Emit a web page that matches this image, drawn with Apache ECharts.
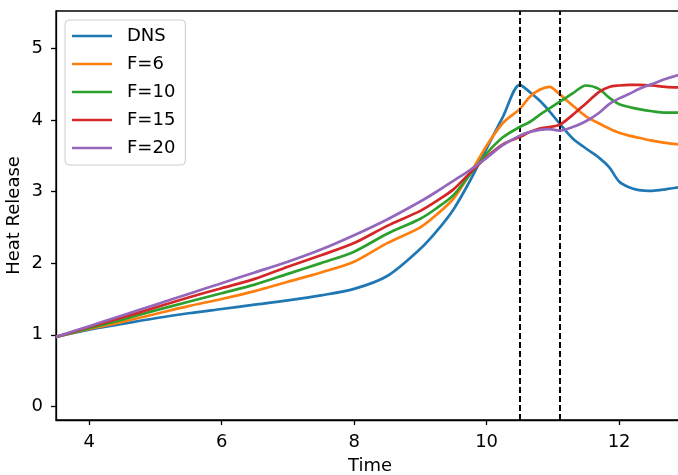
<!DOCTYPE html>
<html>
<head>
<meta charset="utf-8">
<script src="https://cdn.jsdelivr.net/npm/echarts@6/dist/echarts.min.js"></script>
<style>
html,body{margin:0;padding:0;background:#fff;}
#chart{width:678px;height:475px;}
</style>
</head>
<body>
<div id="chart"></div>
<script>
var time = [3.5, 4, 4.5, 5, 5.5, 6, 6.5, 7, 7.5, 8, 8.5, 9, 9.25, 9.5, 9.75, 10, 10.25, 10.5, 10.65, 10.8, 10.95, 11.1, 11.3, 11.5, 11.7, 11.85, 12, 12.15, 12.3, 12.5, 12.7, 12.98];
var dns = [0.97, 1.07, 1.15, 1.23, 1.30, 1.36, 1.42, 1.48, 1.55, 1.64, 1.82, 2.2, 2.45, 2.75, 3.15, 3.6, 4.05, 4.49, 4.39, 4.27, 4.12, 3.95, 3.74, 3.6, 3.47, 3.34, 3.14, 3.06, 3.02, 3.01, 3.03, 3.07];
var f6 = [0.97, 1.08, 1.18, 1.29, 1.40, 1.50, 1.61, 1.74, 1.87, 2.02, 2.28, 2.5, 2.68, 2.9, 3.25, 3.64, 3.96, 4.15, 4.32, 4.42, 4.46, 4.36, 4.2, 4.05, 3.95, 3.88, 3.82, 3.78, 3.75, 3.71, 3.68, 3.65];
var f10 = [0.97, 1.09, 1.21, 1.34, 1.46, 1.58, 1.70, 1.85, 2.0, 2.16, 2.41, 2.62, 2.77, 2.95, 3.24, 3.53, 3.76, 3.9, 3.97, 4.07, 4.16, 4.25, 4.37, 4.48, 4.43, 4.31, 4.22, 4.18, 4.15, 4.12, 4.1, 4.1];
var f15 = [0.97, 1.11, 1.24, 1.38, 1.52, 1.65, 1.78, 1.95, 2.11, 2.28, 2.52, 2.73, 2.87, 3.03, 3.26, 3.48, 3.66, 3.76, 3.83, 3.88, 3.9, 3.93, 4.07, 4.23, 4.39, 4.46, 4.48, 4.49, 4.49, 4.48, 4.46, 4.45];
var f20 = [0.97, 1.12, 1.27, 1.42, 1.57, 1.72, 1.87, 2.02, 2.19, 2.39, 2.61, 2.86, 3.0, 3.15, 3.3, 3.47, 3.65, 3.78, 3.83, 3.86, 3.87, 3.85, 3.9, 3.98, 4.1, 4.22, 4.3, 4.36, 4.43, 4.5, 4.57, 4.65];
var seriesNames = ['DNS', 'F=6', 'F=10', 'F=15', 'F=20'];
var seriesValues = [dns, f6, f10, f15, f20];
var colors = ['#1f77b4', '#ff7f0e', '#2ca02c', '#d62728', '#9467bd'];
var xTicks = [4, 6, 8, 10, 12];
var yTicks = [0, 1, 2, 3, 4, 5];
var markTimes = [10.5, 11.1];

var FONT = 'DejaVu Sans';
var FS = 18;
var chart = echarts.init(document.getElementById('chart'), null, {renderer: 'canvas'});

var series = seriesNames.map(function (name, i) {
  var s = {
    name: name,
    type: 'line',
    data: time.map(function (t, j) { return [t, seriesValues[i][j]]; }),
    showSymbol: false,
    smooth: 0.3,
    lineStyle: {color: colors[i], width: 2.7},
    itemStyle: {color: colors[i]},
    z: 3 + i
  };
  if (i === 0) {
    s.markLine = {
      silent: true,
      symbol: ['none', 'none'],
      label: {show: false},
      lineStyle: {color: '#000', type: [6, 3], width: 2},
      data: markTimes.map(function (t) { return {xAxis: t}; })
    };
  }
  return s;
});

chart.setOption({
  animation: false,
  backgroundColor: '#fff',
  textStyle: {fontFamily: FONT},
  grid: {left: 56, top: 11, right: -6, bottom: 55, containLabel: false, outerBoundsMode: 'none', show: true, borderColor: '#000', borderWidth: 1.3, backgroundColor: 'transparent'},
  legend: {
    orient: 'vertical',
    left: 65,
    top: 20,
    icon: 'rect',
    itemWidth: 40,
    itemHeight: 2.6,
    itemGap: 10,
    padding: [7, 10, 8, 7],
    backgroundColor: 'rgba(255,255,255,0.8)',
    borderColor: '#cccccc',
    borderWidth: 1,
    borderRadius: 4,
    textStyle: {fontFamily: FONT, fontSize: FS, color: '#000', lineHeight: 18, padding: [0, 0, 0, 10]},
    data: seriesNames
  },
  xAxis: {
    type: 'value',
    min: 3.5,
    max: 12.98,
    name: 'Time',
    nameLocation: 'middle',
    nameGap: 37,
    nameMoveOverlap: false,
    nameTextStyle: {fontFamily: FONT, fontSize: FS, color: '#000'},
    axisLine: {show: true, onZero: false, lineStyle: {color: '#000', width: 1.3}},
    axisTick: {show: true, inside: false, length: 5, lineStyle: {color: '#000', width: 1.3}, customValues: xTicks},
    axisLabel: {show: true, margin: 13, fontFamily: FONT, fontSize: FS, color: '#000', customValues: xTicks},
    splitLine: {show: false}
  },
  yAxis: {
    type: 'value',
    min: -0.19,
    max: 5.52,
    name: 'Heat Release',
    nameLocation: 'middle',
    nameGap: 33,
    nameMoveOverlap: false,
    nameTextStyle: {fontFamily: FONT, fontSize: FS, color: '#000'},
    axisLine: {show: true, onZero: false, lineStyle: {color: '#000', width: 1.3}},
    axisTick: {show: true, inside: false, length: 5, lineStyle: {color: '#000', width: 1.3}, customValues: yTicks},
    axisLabel: {show: true, margin: 13, fontFamily: FONT, fontSize: FS, color: '#000', customValues: yTicks},
    splitLine: {show: false}
  },
  series: series
});
</script>
</body>
</html>
